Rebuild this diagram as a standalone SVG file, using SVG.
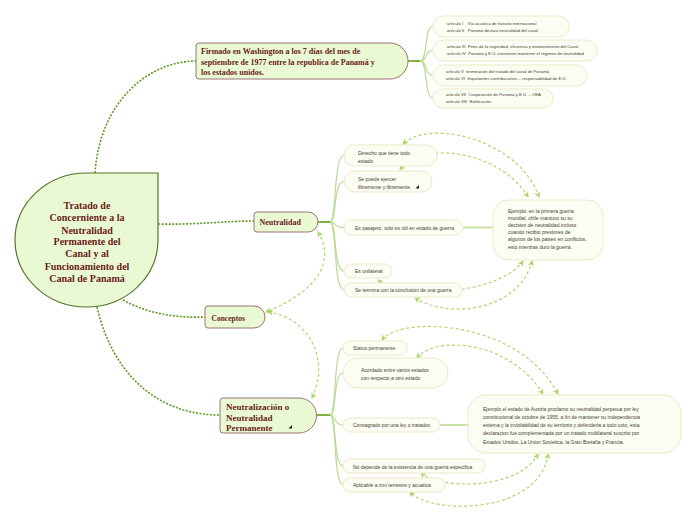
<svg xmlns="http://www.w3.org/2000/svg" width="696" height="520" viewBox="0 0 696 520">
<style>
.main{fill:#e8f9d4;stroke:#9c7474;stroke-width:1}
.mt{font-family:"Liberation Serif",serif;font-weight:bold;fill:#6d1b1b}
.pill{fill:#fbfef3;stroke:#efe7c6;stroke-width:1}
.ct{font-family:"Liberation Sans",Arial,sans-serif;font-size:5px;fill:#4a3a30}
.at{font-family:"Liberation Sans",Arial,sans-serif;font-size:4.2px;fill:#4a3a30;white-space:pre}
.dot{fill:none;stroke:#5b9a1e;stroke-width:1.6;stroke-dasharray:2 1.5}
.br{fill:none;stroke:#b8dc94;stroke-width:1.2}
.stem{fill:none;stroke:#7cb342;stroke-width:2}
.lnk{fill:none;stroke:#c8e2a8;stroke-width:2}
.rel{fill:none;stroke:#a8d86a;stroke-width:1.2;stroke-dasharray:3 2.5;marker-start:url(#arr);marker-end:url(#arr)}
.ico{fill:#2a1a10}
</style>
<defs>
<marker id="arr" viewBox="0 0 6 6" refX="5" refY="3" markerWidth="6" markerHeight="6" markerUnits="userSpaceOnUse" orient="auto-start-reverse">
<path d="M0,0 L6,3 L0,6 L1.5,3 Z" fill="#a8d86a"/>
</marker>
<clipPath id="nzclip"><path d="M223,398 L299,398 A17.5,17.5 0 0 1 299,433 L223,433 Q220,433 220,430 L220,401 Q220,398 223,398 Z"/></clipPath>
</defs>

<g id="connectors">
<path class="dot" d="M95,173 C100,100 150,61 196,61"/>
<path class="dot" d="M158,224 C195,225 225,221 254,221"/>
<path class="dot" d="M123,300 C150,315 180,318 205,317"/>
<path class="dot" d="M97,307 C110,365 150,415 220,415"/>
<path class="stem" d="M408,61 L420,61"/>
<path class="stem" d="M318,222 L330,222"/>
<path class="stem" d="M316,415 L330,415"/>
<path class="br" d="M420,61 C428,61 424,26 433,26"/>
<path class="br" d="M420,61 C428,61 424,50.5 433,50.5"/>
<path class="br" d="M420,61 C428,61 424,75.5 433,75.5"/>
<path class="br" d="M420,61 C428,61 424,98.5 433,98.5"/>
<path class="br" d="M330,222 C337,222 333,155.5 344,155.5"/>
<path class="br" d="M330,222 C337,222 333,181.5 344,181.5"/>
<path class="br" d="M330,222 C337,222 333,227.5 344,227.5"/>
<path class="br" d="M330,222 C337,222 333,271 344,271"/>
<path class="br" d="M330,222 C337,222 333,290 344,290"/>
<path class="br" d="M330,415 C337,415 333,348 343,348"/>
<path class="br" d="M330,415 C337,415 333,373 343,373"/>
<path class="br" d="M330,415 C337,415 333,425 343,425"/>
<path class="br" d="M330,415 C337,415 333,466 343,466"/>
<path class="br" d="M330,415 C337,415 333,484.5 343,484.5"/>
<path class="lnk" d="M463,227.5 L493,227.5"/>
<path class="lnk" d="M440,425 L468,425"/>
<path class="rel" d="M539,197 C520,140 430,118 403,144"/>
<path class="rel" d="M528,197 C500,150 420,140 400,170"/>
<path class="rel" d="M523,261 C500,295 400,300 378,280"/>
<path class="rel" d="M532,261 C520,310 450,320 415,298"/>
<path class="rel" d="M318,232 C335,260 320,290 266,312"/>
<path class="rel" d="M268,312 C310,318 330,360 312,398"/>
<path class="rel" d="M382,340 C400,315 520,320 558,394"/>
<path class="rel" d="M417,358 C435,335 510,340 543,394"/>
<path class="rel" d="M538,454 C520,490 440,490 421,473"/>
<path class="rel" d="M548,454 C540,515 430,515 410,492"/>
</g>

<g id="central">
<path d="M86.5,173 L158,173 L158,240 A71.5,67 0 1 1 86.5,173 Z" fill="#e8f9d4" stroke="#56752b" stroke-width="1.2"/>
<g class="mt" font-size="10" text-anchor="middle">
<text x="87" y="209">Tratado de</text>
<text x="87" y="221">Concerniente a la</text>
<text x="87" y="233.5">Neutralidad</text>
<text x="87" y="245">Permanente del</text>
<text x="87" y="257">Canal y al</text>
<text x="87" y="269.5">Funcionamiento del</text>
<text x="87" y="281.5">Canal de Panamá</text>
</g>
</g>

<g id="firmado">
<path class="main" d="M199,43 L390,43 A18,18 0 0 1 390,79 L199,79 Q196,79 196,76 L196,46 Q196,43 199,43 Z"/>
<g class="mt" font-size="8">
<text x="201" y="54">Firmado en Washington a los 7 días del mes de</text>
<text x="201" y="64.5">septiembre de 1977 entre la republica de Panamá y</text>
<text x="201" y="75">los estados unidos.</text>
</g>
</g>

<g id="art1">
<rect class="pill" x="433" y="16" width="136" height="21" rx="10.5"/>
<text class="at" xml:space="preserve" x="447" y="24.5">artículo I    Vía acuática de tránsito internacional</text>
<text class="at" xml:space="preserve" x="447" y="31.5">artículo II   Panamá declara neutralidad del canal</text>
</g>
<g id="art2">
<rect class="pill" x="433" y="40" width="164" height="21" rx="10.5"/>
<text class="at" xml:space="preserve" x="447" y="48">artículo III  Fines de la seguridad, eficiencia y mantenimiento del Canal</text>
<text class="at" xml:space="preserve" x="447" y="55">artículo IV  Panamá y E.U. convienen mantener el régimen de neutralidad</text>
</g>
<g id="art3">
<rect class="pill" x="433" y="65" width="154" height="21" rx="10.5"/>
<text class="at" xml:space="preserve" x="446" y="72.5">artículo V  terminación del tratado del canal de Panamá</text>
<text class="at" xml:space="preserve" x="446" y="79.5">artículo VI  Importantes contribuciones – responsabilidad de E.U.</text>
</g>
<g id="art4">
<rect class="pill" x="433" y="89" width="120" height="19" rx="9.5"/>
<text class="at" xml:space="preserve" x="446" y="96">artículo VII  Cooperación de Panamá y E.U. – OEA.</text>
<text class="at" xml:space="preserve" x="446" y="103">artículo VIII  Ratificación.</text>
</g>

<g id="neutralidad">
<path class="main" d="M257,212 L308,212 A10,10 0 0 1 308,232 L257,232 Q254,232 254,229 L254,215 Q254,212 257,212 Z"/>
<text class="mt" font-size="8" x="259.5" y="225">Neutralidad</text>
</g>

<g id="derecho">
<rect class="pill" x="344" y="145" width="93" height="21" rx="10.5"/>
<text class="ct" x="358" y="155">Derecho que tiene todo</text>
<text class="ct" x="358" y="162.5">estado</text>
</g>
<g id="sepuede">
<rect class="pill" x="344" y="171" width="88" height="21" rx="10.5"/>
<text class="ct" x="358" y="181">Se puede ejercer</text>
<text class="ct" x="358" y="188.5">libremente y libremente.</text>
<path class="ico" d="M419,185 L419,188.5 L415.5,188.5 Z"/>
</g>
<g id="pasajero">
<rect class="pill" x="344" y="220" width="119" height="15" rx="7.5"/>
<text class="ct" x="355" y="229.5">Es pasajero, solo es útil en estado de guerra</text>
</g>
<g id="unilateral">
<rect class="pill" x="344" y="264" width="48" height="14" rx="7"/>
<text class="ct" x="355" y="273">Es unilateral</text>
</g>
<g id="setermina">
<rect class="pill" x="344" y="283" width="118" height="14" rx="7"/>
<text class="ct" x="355" y="291.8">Se termina con la conclusion de una guerra</text>
</g>

<g id="ejemplo1">
<rect class="pill" x="493" y="200" width="110" height="60" rx="16"/>
<text class="ct" x="508" y="212.5">Ejemplo: en la primera guerra</text>
<text class="ct" x="508" y="219.7">mundial, chile mantuvo su su</text>
<text class="ct" x="508" y="226.9">decision de neutralidad incluso</text>
<text class="ct" x="508" y="234.1">cuando recibio presiones de</text>
<text class="ct" x="508" y="241.3">algunos de los paises en conflictos.</text>
<text class="ct" x="508" y="248.5">esto mientras duro la guerra.</text>
</g>

<g id="conceptos">
<path class="main" d="M208,306 L254,306 A11,11 0 0 1 254,328 L208,328 Q205,328 205,325 L205,309 Q205,306 208,306 Z"/>
<text class="mt" font-size="7.5" x="211.5" y="321">Conceptos</text>
</g>

<g id="neutralizacion">
<path class="main" d="M223,398 L299,398 A17.5,17.5 0 0 1 299,433 L223,433 Q220,433 220,430 L220,401 Q220,398 223,398 Z"/>
<g clip-path="url(#nzclip)" class="mt" font-size="9">
<text x="226" y="410">Neutralización o</text>
<text x="226" y="420.5">Neutralidad</text>
<text x="226" y="431">Permanente</text>
</g>
<path class="ico" d="M292,425 L292,428.5 L288.5,428.5 Z"/>
</g>

<g id="status">
<rect class="pill" x="343" y="341" width="64" height="14" rx="7"/>
<text class="ct" x="353" y="350">Status permanente</text>
</g>
<g id="acordado">
<rect class="pill" x="343" y="358" width="105" height="30" rx="15"/>
<text class="ct" x="361" y="371.5">Acordado entre varios estados</text>
<text class="ct" x="361" y="380">con respecto a otro estado</text>
</g>
<g id="consagrado">
<rect class="pill" x="343" y="418" width="97" height="14" rx="7"/>
<text class="ct" x="353" y="427">Consagrado por una ley o tratados</text>
</g>
<g id="nodepende">
<rect class="pill" x="343" y="459" width="142" height="14" rx="7"/>
<text class="ct" x="353" y="468.5">No depende de la existencia de una guerra especifica</text>
</g>
<g id="aplicable">
<rect class="pill" x="343" y="478" width="102" height="14" rx="7"/>
<text class="ct" x="353" y="487">Aplicable a zon terrestre y acuatica</text>
</g>

<g id="ejemplo2">
<rect class="pill" x="468" y="395" width="213" height="58" rx="18"/>
<text class="ct" x="483" y="411">Ejemplo el estado de Austria proclamo su neutralidad perpetua por ley</text>
<text class="ct" x="483" y="419">constitucional de octubre de 1955, a fin de mantener su independencia</text>
<text class="ct" x="483" y="427">externa y la inviolabilidad de su territorio y defenderla a todo coto, esta</text>
<text class="ct" x="483" y="435">declaracion fue complementada por un tratado multilateral suscrito por</text>
<text class="ct" x="483" y="443.5">Estados Unidos, La Union Sovietica, la Gran Bretaña y Francia.</text>
</g>
</svg>
